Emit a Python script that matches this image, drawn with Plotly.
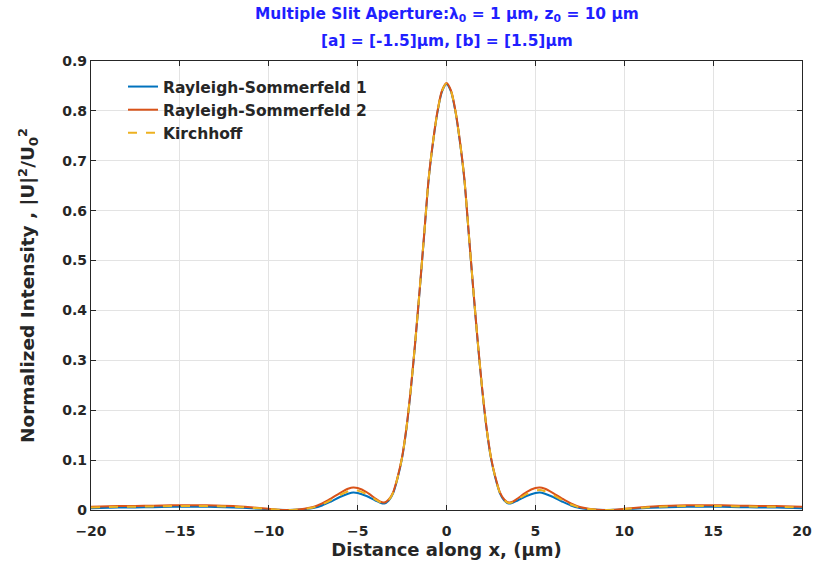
import plotly.graph_objects as go

# Sample positions along x (µm)
x_um = [-20, -19, -18, -17, -16, -15, -14, -13, -12, -11, -10, -9.5, -9, -8.5, -8, -7.5, -7, -6.5, -6,
        -5.5, -5.25, -5, -4.5, -4, -3.75, -3.5, -3.25, -3, -2.75, -2.5, -2.25, -2, -1.75, -1.5, -1.25,
        -1, -0.75, -0.5, -0.25, 0, 0.25, 0.5, 0.75, 1, 1.25, 1.5, 1.75, 2, 2.25, 2.5, 2.75, 3, 3.25,
        3.5, 3.75, 4, 4.5, 5, 5.25, 5.5, 6, 6.5, 7, 7.5, 8, 8.5, 9, 9.5, 10, 11, 12, 13, 14, 15, 16,
        17, 18, 19, 20]

kirchhoff = [0.005, 0.006, 0.0065, 0.007, 0.0075, 0.008, 0.008, 0.0075, 0.0065, 0.0045, 0.002, 0.0005,
             0.0, 0.0005, 0.002, 0.005, 0.011, 0.020, 0.030,
             0.038, 0.040, 0.039, 0.032, 0.021, 0.016, 0.014, 0.020, 0.035, 0.065, 0.105, 0.165,
             0.245, 0.340, 0.445, 0.555,
             0.665, 0.740, 0.800, 0.840, 0.855, 0.840, 0.800, 0.740, 0.665, 0.555, 0.445, 0.340,
             0.245, 0.165, 0.105, 0.065, 0.035, 0.020,
             0.014, 0.016, 0.021, 0.032, 0.039, 0.040, 0.038, 0.030, 0.020, 0.011, 0.005, 0.002,
             0.0005, 0.0, 0.0005, 0.002, 0.0045, 0.0065, 0.0075, 0.008, 0.008, 0.0075,
             0.007, 0.0065, 0.006, 0.005]

rs1 = [0.0035, 0.0045, 0.005, 0.0055, 0.006, 0.0065, 0.0065, 0.006, 0.005, 0.0035, 0.0015, 0.0003,
       0.0, 0.0003, 0.0015, 0.004, 0.009, 0.017, 0.026,
       0.033, 0.035, 0.034, 0.028, 0.019, 0.015, 0.013, 0.019, 0.034, 0.064, 0.104, 0.164,
       0.244, 0.339, 0.444, 0.554,
       0.664, 0.739, 0.799, 0.839, 0.854, 0.839, 0.799, 0.739, 0.664, 0.554, 0.444, 0.339,
       0.244, 0.164, 0.104, 0.064, 0.034, 0.019,
       0.013, 0.015, 0.019, 0.028, 0.034, 0.035, 0.033, 0.026, 0.017, 0.009, 0.004, 0.0015,
       0.0003, 0.0, 0.0003, 0.0015, 0.0035, 0.005, 0.006, 0.0065, 0.0065, 0.006,
       0.0055, 0.005, 0.0045, 0.0035]

rs2 = [0.0065, 0.0075, 0.008, 0.0085, 0.009, 0.0095, 0.0095, 0.009, 0.008, 0.0055, 0.0025, 0.0007,
       0.0, 0.0007, 0.0025, 0.006, 0.013, 0.023, 0.034,
       0.043, 0.045, 0.044, 0.036, 0.023, 0.017, 0.015, 0.021, 0.036, 0.066, 0.106, 0.166,
       0.246, 0.341, 0.446, 0.556,
       0.666, 0.741, 0.801, 0.841, 0.856, 0.841, 0.801, 0.741, 0.666, 0.556, 0.446, 0.341,
       0.246, 0.166, 0.106, 0.066, 0.036, 0.021,
       0.015, 0.017, 0.023, 0.036, 0.044, 0.045, 0.043, 0.034, 0.023, 0.013, 0.006, 0.0025,
       0.0007, 0.0, 0.0007, 0.0025, 0.0055, 0.008, 0.009, 0.0095, 0.0095, 0.009,
       0.0085, 0.008, 0.0075, 0.0065]

series_names = ["Rayleigh-Sommerfeld 1", "Rayleigh-Sommerfeld 2", "Kirchhoff"]
x_ticks = [-20, -15, -10, -5, 0, 5, 10, 15, 20]
y_ticks = [0, 0.1, 0.2, 0.3, 0.4, 0.5, 0.6, 0.7, 0.8, 0.9]
y_tick_labels = ["0", "0.1", "0.2", "0.3", "0.4", "0.5", "0.6", "0.7", "0.8", "0.9"]

FONT = "DejaVu Sans, Liberation Sans, Arial, sans-serif"
DARK = "#262626"
BLUE = "#1F1FFF"

fig = go.Figure()
fig.add_trace(go.Scatter(x=x_um, y=rs1, mode="lines", name=series_names[0],
                         line=dict(color="#0072BD", width=2, shape="spline", smoothing=0.8)))
fig.add_trace(go.Scatter(x=x_um, y=rs2, mode="lines", name=series_names[1],
                         line=dict(color="#D95319", width=2, shape="spline", smoothing=0.8)))
fig.add_trace(go.Scatter(x=x_um, y=kirchhoff, mode="lines", name=series_names[2],
                         line=dict(color="#EDB120", width=2, dash="dash", shape="spline", smoothing=0.8)))

axis_common = dict(
    showline=True, linecolor=DARK, linewidth=1.2, mirror="ticks",
    ticks="inside", ticklen=5, tickcolor=DARK, tickwidth=1.2,
    showgrid=True, gridcolor="#E3E3E3", gridwidth=1, zeroline=False,
    automargin=False,
    tickfont=dict(family=FONT, size=14, color=DARK, weight="bold"),
)

fig.update_layout(
    width=814, height=580,
    margin=dict(l=91, r=12, t=61, b=70),
    paper_bgcolor="white", plot_bgcolor="white",
    font=dict(family=FONT, color=DARK),
    xaxis=dict(range=[-20, 20], tickvals=x_ticks, ticklabelstandoff=8,
               title=dict(text="<b>Distance along x, (μm)</b>", font=dict(family=FONT, size=18, color=DARK), standoff=4),
               **axis_common),
    yaxis=dict(range=[0, 0.9], tickvals=y_ticks, ticktext=y_tick_labels,
               title=dict(text="<b>Normalized Intensity , |U|<sup>2</sup>/U<sub>0</sub><sup>2</sup></b>",
                          font=dict(family=FONT, size=18.5, color=DARK), standoff=22),
               **axis_common),
    legend=dict(x=0.045, y=0.98, xanchor="left", yanchor="top", bgcolor="rgba(255,255,255,0)",
                borderwidth=0, font=dict(family=FONT, size=15.5, color=DARK, weight="bold"),
                tracegroupgap=0),
    showlegend=True,
)

fig.add_annotation(text="<b>Multiple Slit Aperture:λ<sub>0</sub> = 1 μm, z<sub>0</sub> = 10 μm</b>",
                   xref="paper", yref="paper", x=0.5, y=1.0, yshift=46, xanchor="center", yanchor="middle",
                   showarrow=False, font=dict(family=FONT, size=15.4, color=BLUE))
fig.add_annotation(text="<b>[a] = [-1.5]μm, [b] = [1.5]μm</b>",
                   xref="paper", yref="paper", x=0.5, y=1.0, yshift=20, xanchor="center", yanchor="middle",
                   showarrow=False, font=dict(family=FONT, size=15.4, color=BLUE))

fig.write_html("out.html")
